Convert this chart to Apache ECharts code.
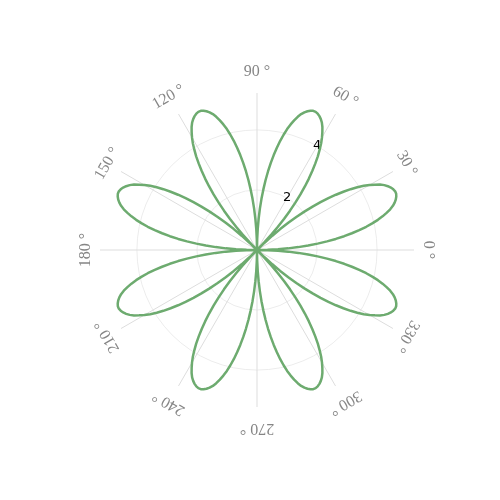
<!DOCTYPE html>
<html><head><meta charset="utf-8">
<script src="https://cdn.jsdelivr.net/npm/echarts@6/dist/echarts.min.js"></script>
<style>html,body{margin:0;padding:0;background:#fff}#c{width:500px;height:500px}</style>
</head><body><div id="c"></div>
<script>
// angle (degrees) of each sampled point
var angles = [
0,1,2,3,4,5,6,7,8,9,10,11,12,13,14,15,16,17,18,19,20,21,22,23,24,25,26,27,28,29,
30,31,32,33,34,35,36,37,38,39,40,41,42,43,44,45,46,47,48,49,50,51,52,53,54,55,56,57,58,59,
60,61,62,63,64,65,66,67,68,69,70,71,72,73,74,75,76,77,78,79,80,81,82,83,84,85,86,87,88,89,
90,91,92,93,94,95,96,97,98,99,100,101,102,103,104,105,106,107,108,109,110,111,112,113,114,115,116,117,118,119,
120,121,122,123,124,125,126,127,128,129,130,131,132,133,134,135,136,137,138,139,140,141,142,143,144,145,146,147,148,149,
150,151,152,153,154,155,156,157,158,159,160,161,162,163,164,165,166,167,168,169,170,171,172,173,174,175,176,177,178,179,
180,181,182,183,184,185,186,187,188,189,190,191,192,193,194,195,196,197,198,199,200,201,202,203,204,205,206,207,208,209,
210,211,212,213,214,215,216,217,218,219,220,221,222,223,224,225,226,227,228,229,230,231,232,233,234,235,236,237,238,239,
240,241,242,243,244,245,246,247,248,249,250,251,252,253,254,255,256,257,258,259,260,261,262,263,264,265,266,267,268,269,
270,271,272,273,274,275,276,277,278,279,280,281,282,283,284,285,286,287,288,289,290,291,292,293,294,295,296,297,298,299,
300,301,302,303,304,305,306,307,308,309,310,311,312,313,314,315,316,317,318,319,320,321,322,323,324,325,326,327,328,329,
330,331,332,333,334,335,336,337,338,339,340,341,342,343,344,345,346,347,348,349,350,351,352,353,354,355,356,357,358,359,
360];
// radius (8-petal rose, peak ~5)
var radii = [
0,0.35,0.70,1.04,1.38,1.71,2.03,2.35,2.65,2.94,3.21,3.47,3.72,3.94,4.15,4.33,4.49,4.64,4.76,4.85,4.92,4.97,5.00,5.00,4.97,4.92,4.85,4.76,4.64,4.49,4.33,4.15,3.94,3.72,3.47,3.21,2.94,2.65,2.35,2.03,1.71,1.38,1.04,0.70,0.35,
0,0.35,0.70,1.04,1.38,1.71,2.03,2.35,2.65,2.94,3.21,3.47,3.72,3.94,4.15,4.33,4.49,4.64,4.76,4.85,4.92,4.97,5.00,5.00,4.97,4.92,4.85,4.76,4.64,4.49,4.33,4.15,3.94,3.72,3.47,3.21,2.94,2.65,2.35,2.03,1.71,1.38,1.04,0.70,0.35,
0,0.35,0.70,1.04,1.38,1.71,2.03,2.35,2.65,2.94,3.21,3.47,3.72,3.94,4.15,4.33,4.49,4.64,4.76,4.85,4.92,4.97,5.00,5.00,4.97,4.92,4.85,4.76,4.64,4.49,4.33,4.15,3.94,3.72,3.47,3.21,2.94,2.65,2.35,2.03,1.71,1.38,1.04,0.70,0.35,
0,0.35,0.70,1.04,1.38,1.71,2.03,2.35,2.65,2.94,3.21,3.47,3.72,3.94,4.15,4.33,4.49,4.64,4.76,4.85,4.92,4.97,5.00,5.00,4.97,4.92,4.85,4.76,4.64,4.49,4.33,4.15,3.94,3.72,3.47,3.21,2.94,2.65,2.35,2.03,1.71,1.38,1.04,0.70,0.35,
0,0.35,0.70,1.04,1.38,1.71,2.03,2.35,2.65,2.94,3.21,3.47,3.72,3.94,4.15,4.33,4.49,4.64,4.76,4.85,4.92,4.97,5.00,5.00,4.97,4.92,4.85,4.76,4.64,4.49,4.33,4.15,3.94,3.72,3.47,3.21,2.94,2.65,2.35,2.03,1.71,1.38,1.04,0.70,0.35,
0,0.35,0.70,1.04,1.38,1.71,2.03,2.35,2.65,2.94,3.21,3.47,3.72,3.94,4.15,4.33,4.49,4.64,4.76,4.85,4.92,4.97,5.00,5.00,4.97,4.92,4.85,4.76,4.64,4.49,4.33,4.15,3.94,3.72,3.47,3.21,2.94,2.65,2.35,2.03,1.71,1.38,1.04,0.70,0.35,
0,0.35,0.70,1.04,1.38,1.71,2.03,2.35,2.65,2.94,3.21,3.47,3.72,3.94,4.15,4.33,4.49,4.64,4.76,4.85,4.92,4.97,5.00,5.00,4.97,4.92,4.85,4.76,4.64,4.49,4.33,4.15,3.94,3.72,3.47,3.21,2.94,2.65,2.35,2.03,1.71,1.38,1.04,0.70,0.35,
0,0.35,0.70,1.04,1.38,1.71,2.03,2.35,2.65,2.94,3.21,3.47,3.72,3.94,4.15,4.33,4.49,4.64,4.76,4.85,4.92,4.97,5.00,5.00,4.97,4.92,4.85,4.76,4.64,4.49,4.33,4.15,3.94,3.72,3.47,3.21,2.94,2.65,2.35,2.03,1.71,1.38,1.04,0.70,0.35,
0];
// angle tick labels
var angleTicks = [0,30,60,90,120,150,180,210,240,270,300,330];
var radiusTicks = [2,4];

var RMAX = 5.23;
var chart = echarts.init(document.getElementById('c'));
var lineData = angles.map(function(a,i){return [radii[i], a];});
var labelData = angleTicks.map(function(a){
  var s = Math.sin(a * Math.PI / 180);
  return {value:[5.7 + 0.25 * s * s, a], label:{rotate: a - 90}};
});
chart.setOption({
  animation:false,
  polar:[
    {center:[257,250], radius:157},
    {center:[257,250], radius:157}
  ],
  angleAxis:[
    {polarIndex:0, type:'value', min:0, max:360, interval:30, startAngle:0, clockwise:false,
     axisLine:{show:false}, axisTick:{show:false}, axisLabel:{show:false},
     splitLine:{show:true, lineStyle:{color:'#dddddd', width:1}}},
    {polarIndex:1, type:'value', min:0, max:360, startAngle:60, clockwise:false,
     axisLine:{show:false}, axisTick:{show:false}, axisLabel:{show:false}, splitLine:{show:false}}
  ],
  radiusAxis:[
    {polarIndex:0, type:'value', min:0, max:RMAX, interval:2,
     axisLine:{show:false}, axisTick:{show:false}, axisLabel:{show:false},
     splitLine:{show:true, lineStyle:{color:['#ececec','#ececec','#ececec','rgba(0,0,0,0)'], width:1}}},
    {polarIndex:1, type:'value', min:0, max:RMAX, interval:2,
     axisLine:{show:false}, axisTick:{show:false}, splitLine:{show:false},
     axisLabel:{show:true, margin:0, color:'#000', fontFamily:'DejaVu Sans', fontSize:13,
       align:'center', verticalAlign:'middle',
       formatter:function(v){return radiusTicks.indexOf(v) >= 0 ? String(v) : '';}}}
  ],
  series:[
    {type:'line', coordinateSystem:'polar', polarIndex:0, data:lineData, showSymbol:false,
     smooth:false, clip:false, lineStyle:{color:'#6dab6f', width:2.5}},
    {type:'scatter', coordinateSystem:'polar', polarIndex:0, data:labelData, symbolSize:0, clip:false,
     label:{show:true, position:'inside', color:'#666', fontFamily:'Liberation Serif', fontSize:16,
       formatter:function(p){return p.value[1] + ' °';}}}
  ]
});
</script></body></html>
